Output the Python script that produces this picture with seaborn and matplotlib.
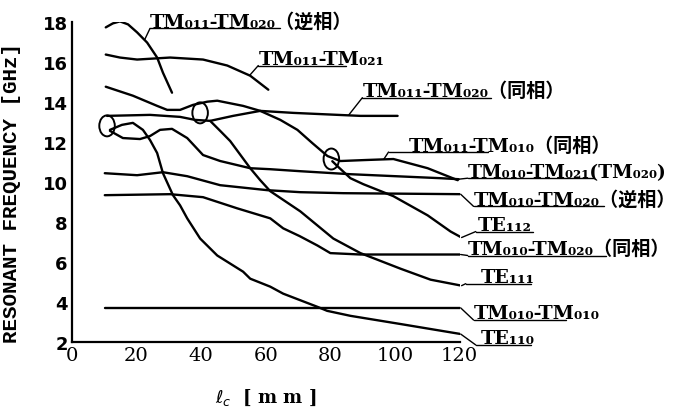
import numpy as np
import pandas as pd
import seaborn as sns
import matplotlib
matplotlib.use("Agg")
import matplotlib.pyplot as plt
from matplotlib.patches import Ellipse

# ---------------- data ----------------
tm011_tm020_anti_x = [10.5, 12.7, 14.9, 17.4, 20.2, 23.3, 26.4, 28.2, 31.0]
tm011_tm020_anti_y = [17.75, 17.95, 18.05, 17.9, 17.5, 16.99, 16.24, 15.48, 14.48]

tm011_tm021_x = [10.5, 14.9, 20.2, 30.4, 40.6, 48.1, 55.2, 60.8]
tm011_tm021_y = [16.39, 16.24, 16.14, 16.24, 16.14, 15.84, 15.33, 14.63]

tm011_tm020_in_x = [10.9, 24.2, 33.5, 38.1, 42.8, 49.9, 58.3, 68.5, 89.3, 100.8]
tm011_tm020_in_y = [13.32, 13.37, 13.27, 13.12, 13.07, 13.32, 13.57, 13.47, 13.32, 13.32]

tm011_tm010_in_x = [10.5, 18.9, 26.4, 29.5, 33.5, 37.5, 41.9, 45.0, 53.0, 58.3, 64.5,
                    69.8, 74.4, 79.1, 83.1, 90.9, 99.5, 110.1, 119.4]
tm011_tm010_in_y = [14.78, 14.33, 13.82, 13.62, 13.62, 13.87, 14.03, 14.08, 13.82, 13.57,
                    13.12, 12.62, 11.96, 11.31, 11.06, 11.11, 11.16, 10.70, 10.10]

tm010_tm021_x = [11.8, 15.8, 21.1, 24.2, 27.3, 31.0, 35.7, 40.6, 45.9, 55.2, 61.4,
                 70.7, 86.2, 114.1, 119.7]
tm010_tm021_y = [12.57, 12.21, 12.16, 12.31, 12.62, 12.67, 12.21, 11.36, 11.06, 10.70,
                 10.65, 10.55, 10.40, 10.20, 10.15]

tm010_tm020_anti_x = [10.2, 20.2, 28.2, 35.7, 45.9, 60.5, 70.7, 84.0, 120.3]
tm010_tm020_anti_y = [10.45, 10.35, 10.50, 10.30, 9.85, 9.60, 9.50, 9.45, 9.40]

tm010_tm020_in_x = [10.2, 30.4, 40.6, 51.2, 61.4, 65.4, 70.5, 76.0, 80.0, 89.3, 120.3]
tm010_tm020_in_y = [9.35, 9.40, 9.25, 8.69, 8.19, 7.69, 7.30, 6.83, 6.45, 6.38, 6.38]

te112_x = [80.6, 82.2, 86.2, 90.2, 99.5, 110.1, 117.2, 120.6]
te112_y = [11.05, 10.8, 10.2, 9.9, 9.3, 8.34, 7.53, 7.23]

te111_x = [42.8, 45.9, 49.0, 55.2, 58.3, 61.4, 70.7, 80.9, 89.3, 101.7, 111.0, 120.6]
te111_y = [13.07, 12.57, 12.06, 10.70, 10.10, 9.55, 8.54, 7.18, 6.45, 5.67, 5.12, 4.82]

tm010_tm010_x = [10.2, 120.3]
tm010_tm010_y = [3.71, 3.71]

te110_x = [11.8, 15.5, 18.9, 22.0, 24.2, 26.4, 28.2, 31.3, 33.5, 35.7, 39.7, 45.0,
           53.0, 55.2, 61.4, 65.4, 76.0, 79.0, 86.2, 101.7, 120.3]
te110_y = [12.62, 12.87, 12.97, 12.62, 12.11, 11.46, 10.45, 9.35, 8.84, 8.19, 7.18, 6.33,
           5.52, 5.17, 4.77, 4.42, 3.76, 3.56, 3.31, 2.9, 2.4]

# crossing points marked with circles
circle_x = [10.9, 39.7, 80.3]
circle_y = [12.82, 13.47, 11.16]

x_ticks = [0, 20, 40, 60, 80, 100, 120]
y_ticks = [2, 4, 6, 8, 10, 12, 14, 16, 18]

# ---------------- long-form table ----------------
series = {
    "TM₀₁₁-TM₀₂₀（逆相）": (tm011_tm020_anti_x, tm011_tm020_anti_y),
    "TM₀₁₁-TM₀₂₁": (tm011_tm021_x, tm011_tm021_y),
    "TM₀₁₁-TM₀₂₀（同相）": (tm011_tm020_in_x, tm011_tm020_in_y),
    "TM₀₁₁-TM₀₁₀（同相）": (tm011_tm010_in_x, tm011_tm010_in_y),
    "TM₀₁₀-TM₀₂₁(TM₀₂₀)": (tm010_tm021_x, tm010_tm021_y),
    "TM₀₁₀-TM₀₂₀（逆相）": (tm010_tm020_anti_x, tm010_tm020_anti_y),
    "TE₁₁₂": (te112_x, te112_y),
    "TM₀₁₀-TM₀₂₀（同相）": (tm010_tm020_in_x, tm010_tm020_in_y),
    "TE₁₁₁": (te111_x, te111_y),
    "TM₀₁₀-TM₀₁₀": (tm010_tm010_x, tm010_tm010_y),
    "TE₁₁₀": (te110_x, te110_y),
}
frames = []
for name, (xs, ys) in series.items():
    frames.append(pd.DataFrame({"lc": xs, "f": ys, "mode": name}))
df = pd.concat(frames, ignore_index=True)

# ---------------- style ----------------
sns.set_theme(style="white")
label_font = ["DejaVu Serif", "Noto Sans CJK JP"]
plt.rcParams["font.family"] = label_font
plt.rcParams["text.color"] = "black"
plt.rcParams["axes.labelcolor"] = "black"

fig = plt.figure(figsize=(6.84, 4.14), dpi=100)
ax = fig.add_axes([0.105, 0.1715, 0.567, 0.772])

for name in series:
    sub = df[df["mode"] == name]
    sns.lineplot(data=sub, x="lc", y="f", sort=False, estimator=None,
                 color="black", linewidth=1.7, ax=ax, legend=False)

for cx, cy in zip(circle_x, circle_y):
    ax.add_patch(Ellipse((cx, cy), width=4.8, height=1.05, fill=False,
                         edgecolor="black", linewidth=1.4))

# label placement: (series, attach x or None for end, underline x0, x1, y, text x, size)
label_layout = [
    ("TM₀₁₁-TM₀₂₀（逆相）", 22.5, 24.2, 64.5, 17.7, 24.2, 13.8),
    ("TM₀₁₁-TM₀₂₁", 55.0, 57.7, 84.7, 15.84, 57.7, 13.8),
    ("TM₀₁₁-TM₀₂₀（同相）", 85.6, 89.9, 129.6, 14.23, 89.9, 13.8),
    ("TM₀₁₁-TM₀₁₀（同相）", 96.5, 98.0, 128.7, 11.51, 104.2, 13.8),
    ("TM₀₁₀-TM₀₂₁(TM₀₂₀)", None, 122.5, 161.5, 10.2, 122.5, 13.4),
    ("TM₀₁₀-TM₀₂₀（逆相）", None, 124.3, 164.6, 8.79, 124.3, 13.8),
    ("TE₁₁₂", None, 125.0, 142.6, 7.53, 125.6, 13.8),
    ("TM₀₁₀-TM₀₂₀（同相）", None, 122.5, 165.3, 6.33, 122.5, 13.8),
    ("TE₁₁₁", None, 121.9, 142.0, 4.92, 126.5, 13.8),
    ("TM₀₁₀-TM₀₁₀", None, 124.3, 152.9, 3.1, 124.3, 13.8),
    ("TE₁₁₀", None, 125.0, 142.0, 1.85, 126.5, 13.8),
]
for name, ax_x, u0, u1, uy, tx, fs in label_layout:
    xs, ys = series[name]
    if ax_x is None:
        px, py = xs[-1], ys[-1]
    else:
        px, py = ax_x, float(np.interp(ax_x, xs, ys))
    ax.plot([px, u0], [py, uy], color="black", lw=1.0, clip_on=False)
    ax.plot([u0, u1], [uy, uy], color="black", lw=1.0, clip_on=False)
    ax.text(tx, uy + 0.08, name, fontsize=fs, fontweight="bold", color="black",
            family=label_font, ha="left", va="baseline", clip_on=False)

# ---------------- axes ----------------
ax.set_xlim(0, 120)
ax.set_ylim(2, 18)
ax.set_xticks(x_ticks)
ax.set_yticks(y_ticks)
ax.set_xticklabels([str(v) for v in x_ticks], fontsize=14, family="DejaVu Serif")
ax.set_yticklabels([str(v) for v in y_ticks], fontsize=13, fontweight="bold",
                   family="Liberation Sans Narrow")
ax.tick_params(axis="both", direction="in", length=4, width=1.2, colors="black", pad=3)
sns.despine(ax=ax)
for s in ("left", "bottom"):
    ax.spines[s].set_color("black")
    ax.spines[s].set_linewidth(1.6)

ax.set_ylabel("RESONANT FREQUENCY [GHz]", fontsize=15, fontweight="bold",
              family="Liberation Mono", color="black")
ax.yaxis.set_label_coords(-0.13, 0.47)
ax.set_xlabel(r"$\ell_{c}$  [ m m ]", fontsize=13, fontweight="bold",
              family="DejaVu Serif", color="black")
ax.xaxis.set_label_coords(0.5, -0.14)

fig.savefig("out.png", dpi=100, facecolor="white")
